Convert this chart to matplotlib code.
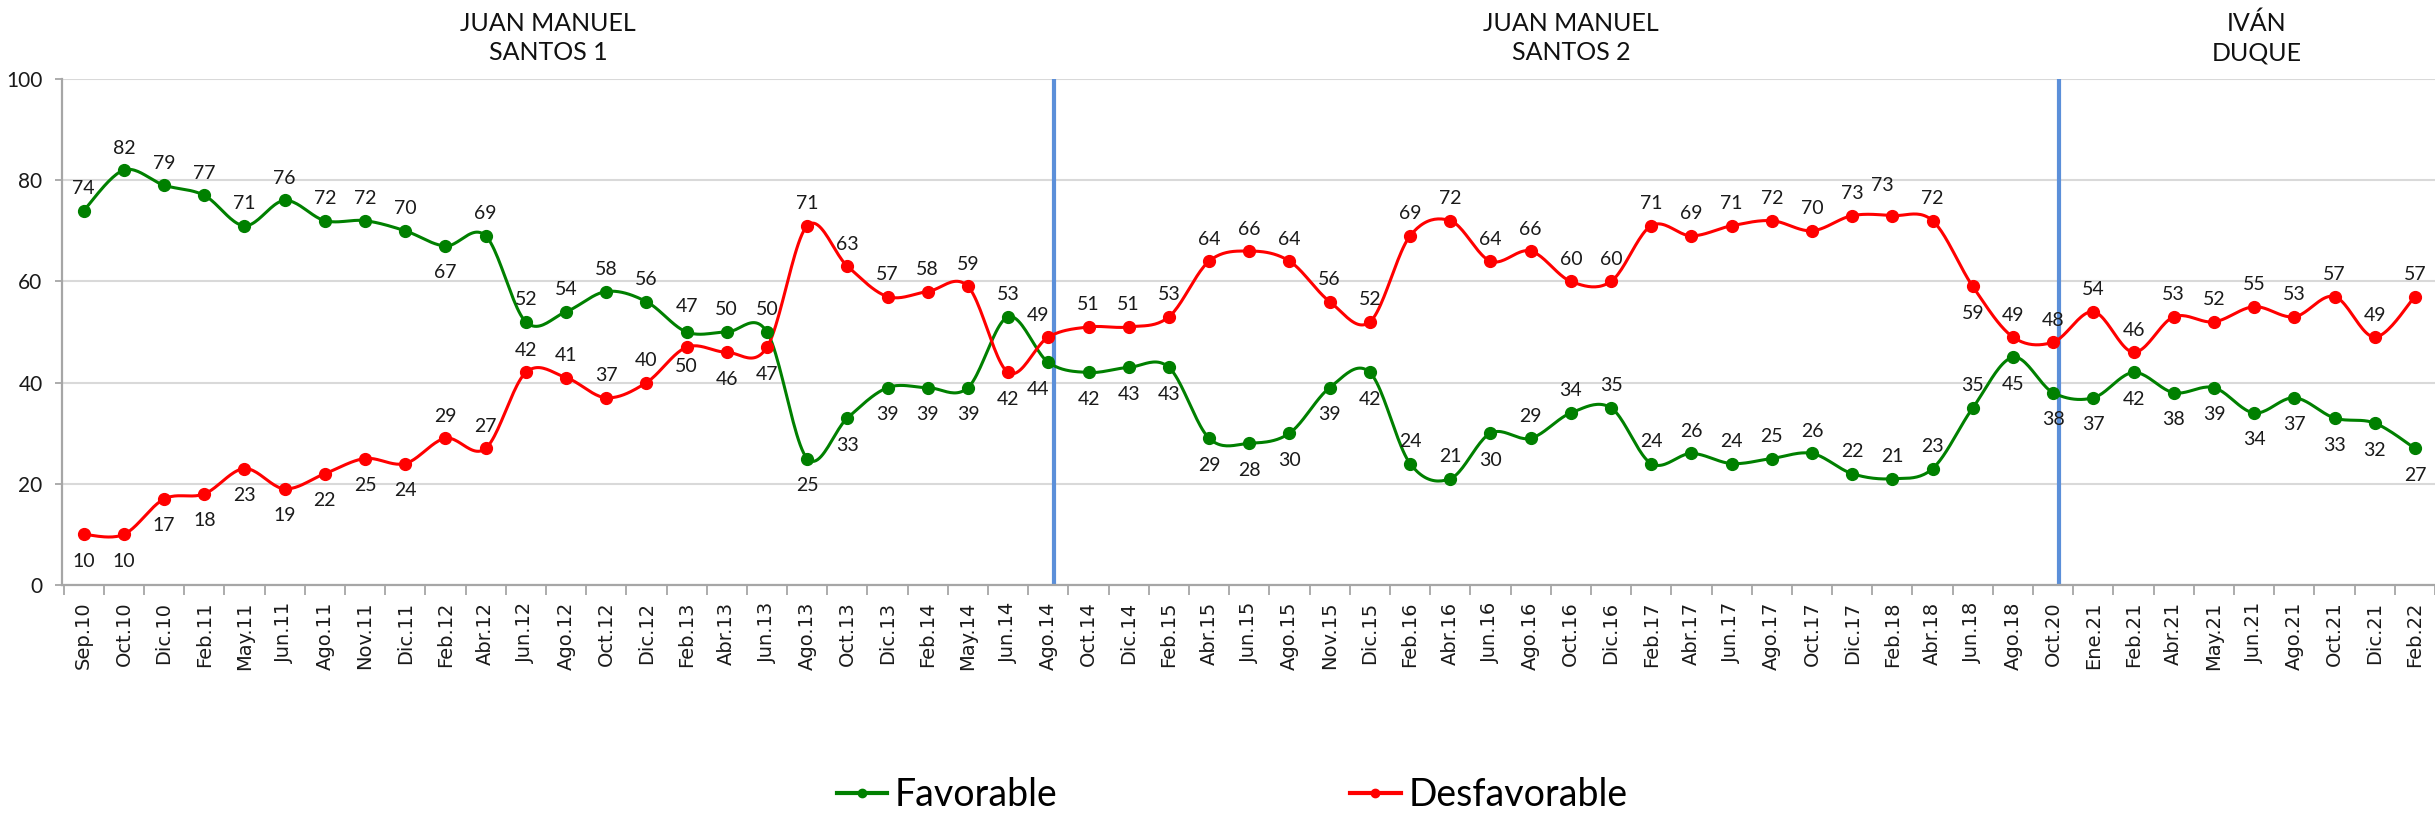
import numpy as np
import matplotlib.pyplot as plt
from matplotlib.lines import Line2D
from matplotlib import transforms

# meses de medición
meses = ["Sep.10", "Oct.10", "Dic.10", "Feb.11", "May.11", "Jun.11", "Ago.11", "Nov.11",
         "Dic.11", "Feb.12", "Abr.12", "Jun.12", "Ago.12", "Oct.12", "Dic.12", "Feb.13",
         "Abr.13", "Jun.13", "Ago.13", "Oct.13", "Dic.13", "Feb.14", "May.14", "Jun.14",
         "Ago.14", "Oct.14", "Dic.14", "Feb.15", "Abr.15", "Jun.15", "Ago.15", "Nov.15",
         "Dic.15", "Feb.16", "Abr.16", "Jun.16", "Ago.16", "Oct.16", "Dic.16", "Feb.17",
         "Abr.17", "Jun.17", "Ago.17", "Oct.17", "Dic.17", "Feb.18", "Abr.18", "Jun.18",
         "Ago.18", "Oct.20", "Ene.21", "Feb.21", "Abr.21", "May.21", "Jun.21", "Ago.21",
         "Oct.21", "Dic.21", "Feb.22"]

favorable = [74, 82, 79, 77, 71, 76, 72, 72, 70, 67, 69, 52, 54, 58, 56, 50,
             50, 50, 25, 33, 39, 39, 39, 53, 44, 42, 43, 43, 29, 28, 30, 39,
             42, 24, 21, 30, 29, 34, 35, 24, 26, 24, 25, 26, 22, 21, 23, 35,
             45, 38, 37, 42, 38, 39, 34, 37, 33, 32, 27]

desfavorable = [10, 10, 17, 18, 23, 19, 22, 25, 24, 29, 27, 42, 41, 37, 40, 47,
                46, 47, 71, 63, 57, 58, 59, 42, 49, 51, 51, 53, 64, 66, 64, 56,
                52, 69, 72, 64, 66, 60, 60, 71, 69, 71, 72, 70, 73, 73, 72, 59,
                49, 48, 54, 46, 53, 52, 55, 53, 57, 49, 57]

gobiernos = ["JUAN MANUEL\nSANTOS 1", "JUAN MANUEL\nSANTOS 2", "IVÁN\nDUQUE"]

# lado de la etiqueta: 1 arriba, -1 abajo
lado_fav = [1] * 9 + [-1] + [1] * 5 + [-1, 1, 1] + [-1] * 5 + [1] + [-1] * 9 + \
           [1, 1, -1] + [1] * 12 + [-1] * 11
lado_desf = [-1] * 9 + [1] * 7 + [-1, -1] + [1] * 5 + [-1] + [1] * 23 + [-1] + [1] * 11

# ajustes manuales de algunas etiquetas (dx, dy en pixeles)
ajuste_fav = {15: (0, -35), 24: (-10, -27)}
ajuste_desf = {15: (0, 41), 24: (-10, 22), 45: (-10, 30)}

VERDE = "#008000"
ROJO = "#FF0000"
AZUL = "#5B8FD9"
LETRA = ["Lato", "DejaVu Sans"]


def suavizar(y, pasos=24):
    # curva tipo Catmull-Rom como la linea suavizada de Excel
    y = np.asarray(y, dtype=float)
    x = np.arange(len(y), dtype=float)
    xs, ys = [], []
    for i in range(len(y) - 1):
        i0 = max(i - 1, 0)
        i3 = min(i + 2, len(y) - 1)
        p1 = np.array([x[i], y[i]])
        p2 = np.array([x[i + 1], y[i + 1]])
        b1 = p1 + (p2 - np.array([x[i0], y[i0]])) / 6
        b2 = p2 - (np.array([x[i3], y[i3]]) - p1) / 6
        t = np.linspace(0, 1, pasos)[:, None]
        c = (1 - t) ** 3 * p1 + 3 * (1 - t) ** 2 * t * b1 + 3 * (1 - t) * t ** 2 * b2 + t ** 3 * p2
        xs.extend(c[:, 0])
        ys.extend(c[:, 1])
    return xs, ys


fig = plt.figure(figsize=(24.35, 8.14), dpi=100)
ax = fig.add_axes([62 / 2435, 1 - 585 / 814, 1 - 62 / 2435, (585 - 79) / 814])

x = np.arange(len(meses))

for serie, color in [(favorable, VERDE), (desfavorable, ROJO)]:
    sx, sy = suavizar(serie)
    ax.plot(sx, sy, color=color, lw=2.2, zorder=3, solid_capstyle="round")
    ax.plot(x, serie, "o", color=color, markersize=8.5, zorder=4)

# etiquetas de datos
for serie, lados, ajustes in [(favorable, lado_fav, ajuste_fav),
                              (desfavorable, lado_desf, ajuste_desf)]:
    for i, v in enumerate(serie):
        dx, dy = ajustes.get(i, (0, 22 if lados[i] > 0 else -27))
        ax.annotate(str(v), (i, v), xytext=(dx, dy), textcoords="offset pixels",
                    ha="center", va="center", fontsize=14, family=LETRA,
                    color="#1a1a1a", zorder=5)

# cambios de gobierno
for xv in [24.15, 49.15]:
    ax.axvline(xv, color=AZUL, lw=3, zorder=2)

ax.set_xlim(-0.54, 58.2)
ax.set_ylim(0, 100)
ax.set_yticks(range(0, 101, 20))
ax.yaxis.grid(True, color="#D9D9D9", lw=1.5, zorder=0)
ax.set_axisbelow(True)

ax.set_xticks(x)
ax.set_xticklabels(meses, rotation=90, fontsize=14, family="DejaVu Sans",
                   color="#1a1a1a")
ax.set_xticks(np.arange(-0.5, len(meses), 1), minor=True)
ax.tick_params(axis="x", which="major", length=0, pad=12)
ax.tick_params(axis="x", which="minor", length=7, width=1.3, color="#A6A6A6")
ax.tick_params(axis="y", length=5, width=1.3, color="#A6A6A6", pad=9)
for lab in ax.get_yticklabels():
    lab.set_family(LETRA)
    lab.set_fontsize(15)
    lab.set_color("#1a1a1a")

for s in ["top", "right"]:
    ax.spines[s].set_visible(False)
for s in ["left", "bottom"]:
    ax.spines[s].set_color("#A6A6A6")
    ax.spines[s].set_linewidth(1.6)

# nombres de los periodos presidenciales
trans = transforms.blended_transform_factory(ax.transData, fig.transFigure)
for xc, nombre in zip([11.56, 37.0, 54.06], gobiernos):
    ax.text(xc, 1 - 38 / 814, nombre, transform=trans, ha="center", va="center",
            fontsize=18, family=LETRA, linespacing=1.3, color="#111111")

handles = [Line2D([], [], color=VERDE, lw=3, marker="o", markersize=6),
           Line2D([], [], color=ROJO, lw=3, marker="o", markersize=6)]
fig.legend(handles, ["Favorable", "Desfavorable"], loc="center",
           bbox_to_anchor=(0.506, 1 - 795 / 814), ncol=2, frameon=False,
           prop={"family": LETRA, "size": 27}, handlelength=1.35,
           handletextpad=0.2, columnspacing=7.8)

fig.savefig("out.png", dpi=100, facecolor="white")
